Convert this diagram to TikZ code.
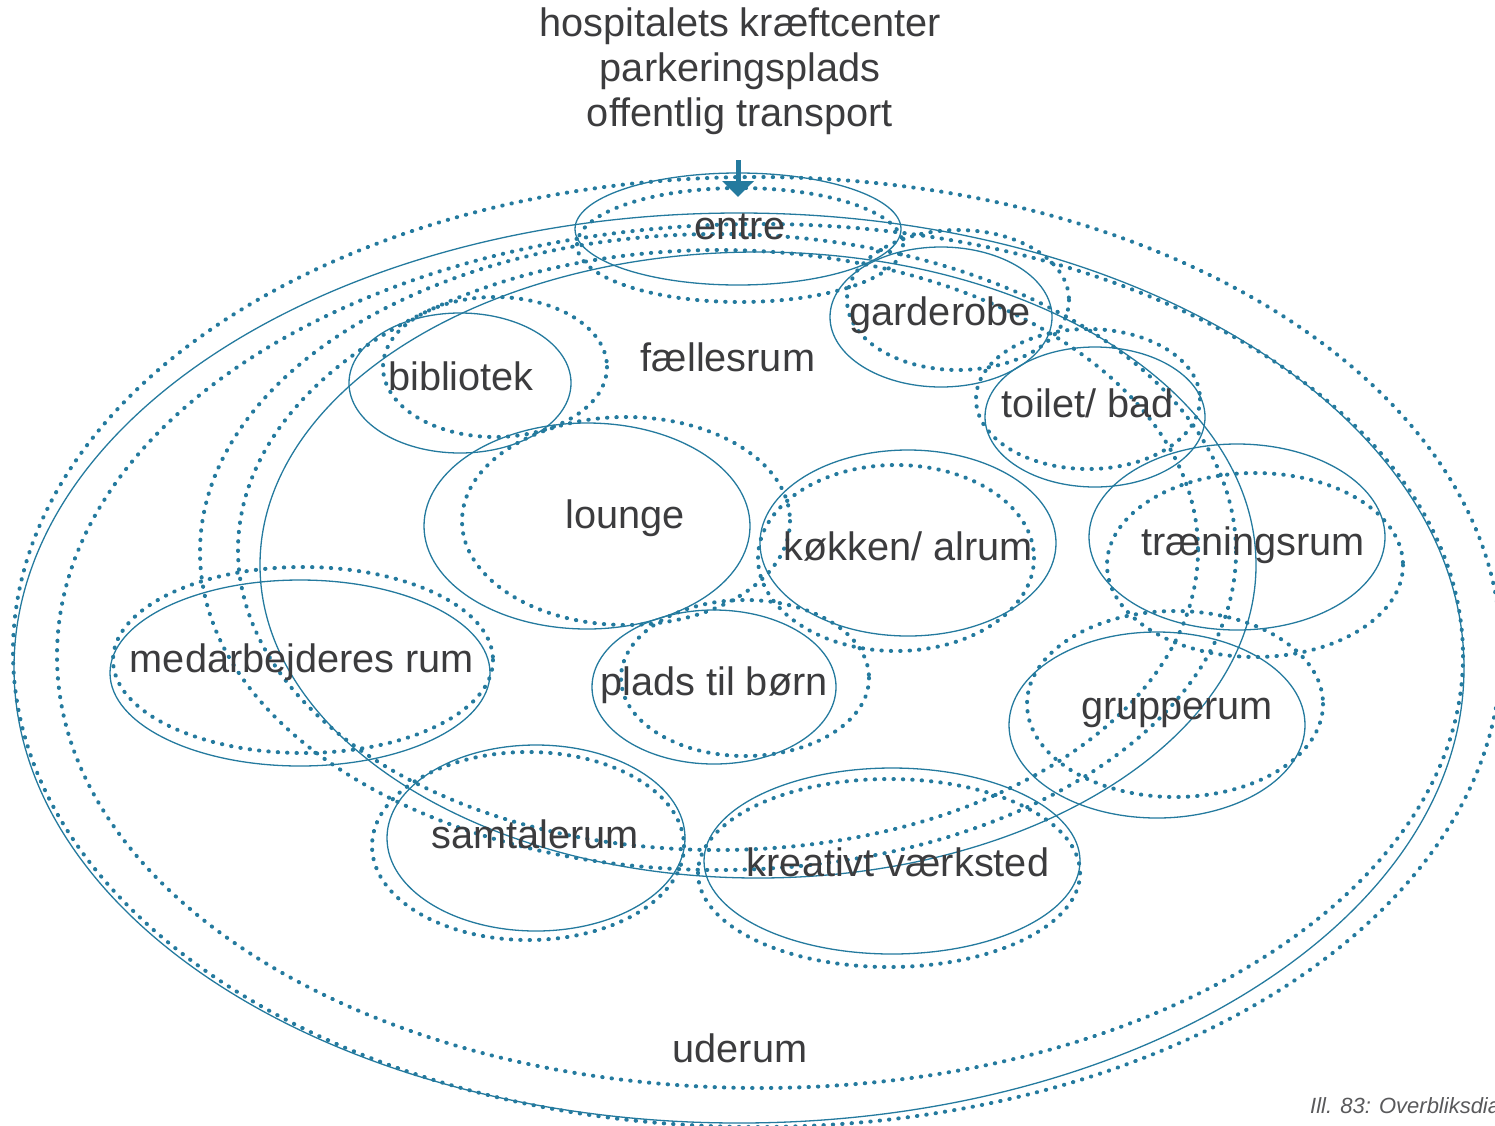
\documentclass[tikz,border=0pt]{standalone}
\usepackage{fontspec}
\setmainfont{Liberation Sans}
\usepackage{tikz}
\usetikzlibrary{arrows.meta}

\definecolor{petrol}{RGB}{36,122,158}
\definecolor{ink}{RGB}{60,60,62}

\begin{document}
\begin{tikzpicture}[x=1pt,y=-1pt,
  ring/.style={draw=petrol,line width=1.3pt},
  dots/.style={draw=petrol,line width=4pt,line cap=round,dash pattern=on 0.4pt off 9pt},
  lbl/.style={text=ink,font=\fontsize{39.7}{45}\selectfont,inner sep=0pt,anchor=base}]
\useasboundingbox (0,0) rectangle (1495,1125);
\clip (0,0) rectangle (1495,1125);

% outer zones
\draw [dots] (757,652) ellipse [x radius=744, y radius=475];
\draw [ring] (739,668) ellipse [x radius=725, y radius=455];
\draw [dots] (760,656) ellipse [x radius=703, y radius=432];
\draw [dots] (718,552) ellipse [x radius=518, y radius=318];
\draw [dots] (718,550) ellipse [x radius=480, y radius=300];
\draw [ring] (758,565) ellipse [x radius=498, y radius=313];

% rooms
\draw [ring] (738,229) ellipse [x radius=163, y radius=56];
\draw [dots] (740,245) ellipse [x radius=163, y radius=57];
\draw [ring] (941,317) ellipse [x radius=111, y radius=70];
\draw [dots] (958,300) ellipse [x radius=111, y radius=70];
\draw [ring] (460,383) ellipse [x radius=111, y radius=70];
\draw [dots] (495,367) ellipse [x radius=112, y radius=70];
\draw [ring] (1095,417) ellipse [x radius=110, y radius=70];
\draw [dots] (1088,399) ellipse [x radius=112, y radius=70];
\draw [ring] (587,526) ellipse [x radius=163, y radius=103];
\draw [dots] (626,521) ellipse [x radius=164, y radius=104];
\draw [ring] (908,543) ellipse [x radius=148, y radius=93];
\draw [dots] (896,558) ellipse [x radius=138, y radius=93];
\draw [ring] (1237,537) ellipse [x radius=148, y radius=93];
\draw [dots] (1255,565) ellipse [x radius=148, y radius=92];
\draw [ring] (300,673) ellipse [x radius=190, y radius=93];
\draw [dots] (303,660) ellipse [x radius=190, y radius=93];
\draw [ring] (714,687) ellipse [x radius=122, y radius=77];
\draw [dots] (745,678) ellipse [x radius=124, y radius=78];
\draw [ring] (1157,725) ellipse [x radius=148, y radius=93];
\draw [dots] (1175,704) ellipse [x radius=148, y radius=93];
\draw [ring] (536,838) ellipse [x radius=149, y radius=93];
\draw [dots] (528,846) ellipse [x radius=156, y radius=94];
\draw [ring] (892,861) ellipse [x radius=188, y radius=93];
\draw [dots] (889,873) ellipse [x radius=191, y radius=94];

% labels (placed on their baselines)
\node [lbl] (hospital) at (740,36) {hospitalets kræftcenter};
\node [lbl] (parking) at (740,81) {parkeringsplads};
\node [lbl] (transport) at (740,126) {offentlig transport};
\node [lbl] (entre) at (740,239) {entre};
\node [lbl] (garderobe) at (940,325) {garderobe};
\node [lbl] (faelles) at (728,371) {fællesrum};
\node [lbl] (bibliotek) at (461,390) {bibliotek};
\node [lbl] (toilet) at (1088,417) {toilet/ bad};
\node [lbl] (lounge) at (625,528) {lounge};
\node [lbl] (kokken) at (908,560) {køkken/ alrum};
\node [lbl] (traening) at (1253,555) {træningsrum};
\node [lbl] (medarb) at (302,672) {medarbejderes rum};
\node [lbl] (boern) at (714,695) {plads til børn};
\node [lbl] (grupper) at (1177,719) {grupperum};
\node [lbl] (samtale) at (535,848) {samtalerum};
\node [lbl] (kreativ) at (898,876) {kreativt værksted};
\node [lbl] (uderum) at (740,1062) {uderum};
\node [anchor=base west,inner sep=0pt,text=ink!85,font=\fontsize{22}{26}\selectfont\itshape] (caption) at (1310,1113) {Ill. 83: Overbliksdiagram};

% way in
\coordinate (inlet) at (738,160);
\coordinate (door) at (738,197);
\draw [petrol,line width=5pt,-{Triangle[width=31pt,length=16pt]}] (inlet) -- (door);
\end{tikzpicture}
\end{document}
